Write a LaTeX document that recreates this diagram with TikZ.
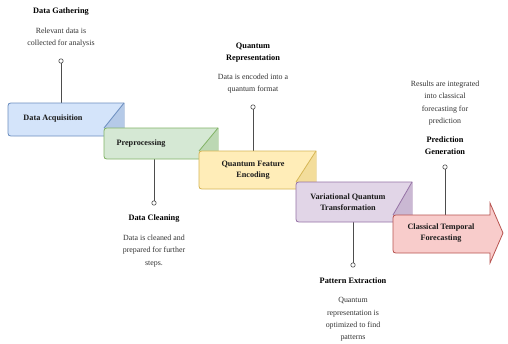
\documentclass[tikz,border=0pt]{standalone}
\usepackage{fontspec}
\setmainfont{Liberation Serif}
\definecolor{bfill}{HTML}{D4E4FA}\definecolor{bdraw}{HTML}{6C8EBF}
\definecolor{gfill}{HTML}{D5E8D4}\definecolor{gdraw}{HTML}{82B366}
\definecolor{yfill}{HTML}{FFEDB8}\definecolor{ydraw}{HTML}{D6B656}
\definecolor{pfill}{HTML}{E1D5E7}\definecolor{pdraw}{HTML}{9673A6}
\definecolor{rfill}{HTML}{F8CCCB}\definecolor{rdraw}{HTML}{B85450}
\definecolor{linegray}{HTML}{4D4D4D}
% #1 x1, #2 y1, #3 x2, #4 y2, #5 fill, #6 draw, #7 fold x, #8 fold y
\newcommand{\stepshape}[8]{%
  \filldraw[fill=#5,draw=#6,line width=0.8pt]
    (#3,#2) -- ({#1+6},#2) .. controls (#1,#2) .. (#1,{#2+6})
    -- (#1,{#4-6}) .. controls (#1,#4) .. ({#1+6},#4) -- (#3,#4) -- cycle;
  \fill[#5!70!#6] (#3,#2) -- (#3,#8) -- (#7,#8) -- cycle;
  \draw[#6,line width=0.8pt] (#3,#2) -- (#7,#8);
}
\tikzset{
  conn/.style={draw=linegray,line width=0.8pt},
  pin/.style={draw=linegray,fill=white,line width=0.6pt},
  lbl/.style={font=\fontsize{8.2}{11.5}\selectfont\bfseries,align=center,inner sep=0pt,text=black!90},
  ttl/.style={font=\fontsize{8.3}{12}\selectfont\bfseries,align=center,inner sep=0pt,text=black},
  desc/.style={font=\fontsize{7.9}{12.2}\selectfont,align=center,inner sep=0pt,text=black!80}
}
\begin{document}
\begin{tikzpicture}[x=1pt,y=-1pt]
\useasboundingbox (0,0) rectangle (508,343);
\fill[white] (0,0) rectangle (508,343);

% connector coordinates
\coordinate (b1t) at (61,103);  \coordinate (c1) at (61,61);
\coordinate (b2b) at (154,159); \coordinate (c2) at (154,203);
\coordinate (b3t) at (253,151); \coordinate (c3) at (253,107);
\coordinate (b4b) at (353,222); \coordinate (c4) at (353,265);
\coordinate (b5t) at (445,215); \coordinate (c5) at (445,167);

\draw[conn] (b1t) -- (c1);
\draw[conn] (b2b) -- (c2);
\draw[conn] (b3t) -- (c3);
\draw[conn] (b4b) -- (c4);
\draw[conn] (b5t) -- (c5);

% boxes
\stepshape{8}{103}{124}{136}{bfill}{bdraw}{104}{128}
\stepshape{104}{128}{218}{159}{gfill}{gdraw}{199}{151}
\stepshape{199}{151}{316}{189}{yfill}{ydraw}{296}{182}
\stepshape{296}{182}{412}{222}{pfill}{pdraw}{393}{215}
\filldraw[fill=rfill,draw=rdraw,line width=0.8pt]
  (490,215) -- (399,215) .. controls (393,215) .. (393,221)
  -- (393,247) .. controls (393,253) .. (399,253) -- (490,253)
  -- (490,263) -- (503,233) -- (490,203) -- cycle;

\foreach \c in {c1,c2,c3,c4,c5} \draw[pin] (\c) circle[radius=2.2];

% box labels
\node[lbl] (n1) at (53,119) {Data Acquisition};
\node[lbl] (n2) at (141,144) {Preprocessing};
\node[lbl] (n3) at (253,170) {Quantum Feature\\Encoding};
\node[lbl] (n4) at (348,202) {Variational Quantum\\Transformation};
\node[lbl] (n5) at (441,233) {Classical Temporal\\Forecasting};

% annotations
\node[ttl] (t1) at (61,12) {Data Gathering};
\node[desc] (d1) at (61,38) {Relevant data is\\collected for analysis};

\node[ttl] (t2) at (154,219) {Data Cleaning};
\node[desc] (d2) at (154,251) {Data is cleaned and\\prepared for further\\steps.};

\node[ttl] (t3) at (253,52.5) {Quantum\\Representation};
\node[desc] (d3) at (253,83.5) {Data is encoded into a\\quantum format};

\node[ttl] (t4) at (353,281) {Pattern Extraction};
\node[desc] (d4) at (353,319.5) {Quantum\\representation is\\optimized to find\\patterns};

\node[ttl] (t5) at (445,146) {Prediction\\Generation};
\node[desc] (d5) at (445,103) {Results are integrated\\into classical\\forecasting for\\prediction};
\end{tikzpicture}
\end{document}
